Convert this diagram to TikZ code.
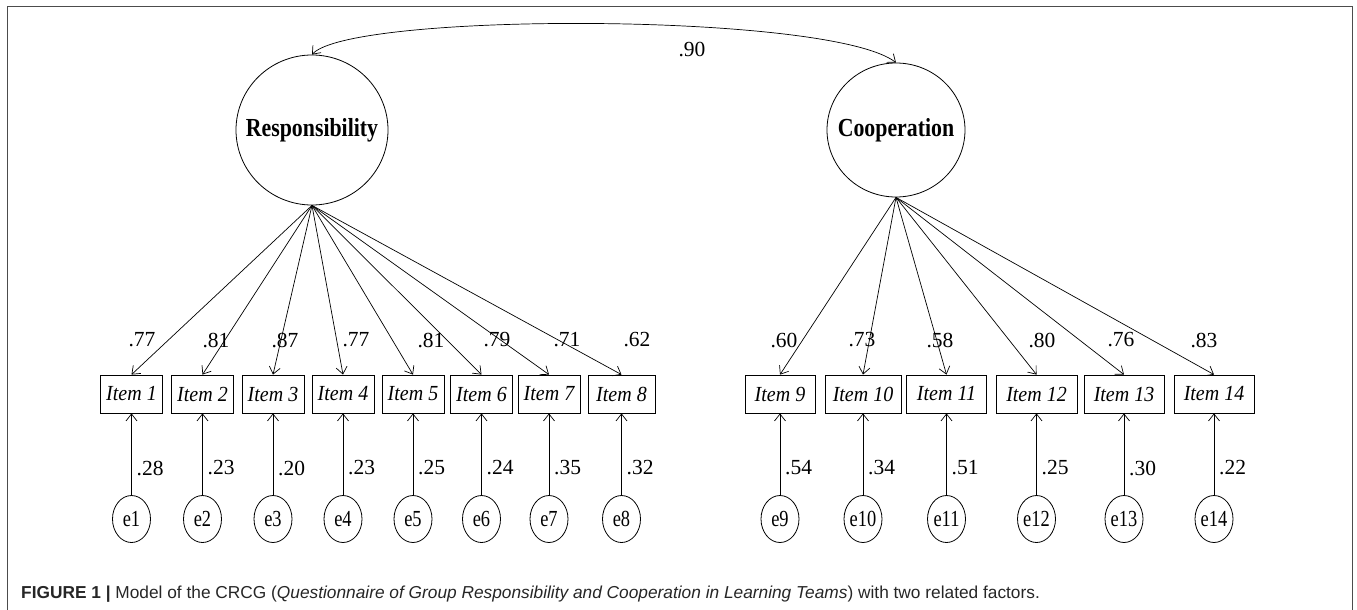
\documentclass[tikz,border=0pt]{standalone}
\usepackage{fontspec}
\setmainfont{Liberation Serif}
\newfontfamily\capfont{Liberation Sans}
\usetikzlibrary{arrows.meta,shapes.geometric}
\begin{document}
\begin{tikzpicture}[x=1pt,y=-1pt,
  latent/.style={ellipse, draw, line width=0.8pt, inner sep=0pt},
  factorlabel/.style={font=\fontsize{26}{26}\selectfont\bfseries, inner sep=0pt},
  itembox/.style={draw, line width=0.8pt, minimum height=38pt, minimum width=#1, inner sep=0pt,
     font=\fontsize{21.5}{21.5}\selectfont\itshape},
  errnode/.style={ellipse, draw, line width=0.8pt, minimum width=38pt, minimum height=47pt, inner sep=0pt,
     font=\fontsize{23}{23}\selectfont},
  arr/.style={-{Straight Barb[length=7pt,width=11pt]}, line width=0.7pt},
  lbl/.style={font=\fontsize{21.5}{21.5}\selectfont, inner sep=0pt}
]
\useasboundingbox (0,0) rectangle (1357,610);
\draw[line width=1pt, black!70] (7,610) -- (7,7) -- (1352,7) -- (1352,610);

% latent factors
\node[latent, minimum width=152pt, minimum height=150pt,
  label={[factorlabel]center:\scalebox{0.84}[1]{Responsibility}}] (R) at (312,130) {};
\node[latent, minimum width=138pt, minimum height=134pt,
  label={[factorlabel]center:\scalebox{0.84}[1]{Cooperation}}] (C) at (896,130) {};

% correlation
\draw[{Straight Barb[length=7pt,width=11pt]}-{Straight Barb[length=7pt,width=11pt]}, line width=0.7pt]
  (R.north) .. controls (350,12) and (830,12) .. (C.north);
\node[lbl] (r) at (692,50) {.90};

% items
\node[itembox=62pt] (i1) at (131.5,394) {\scalebox{0.93}[1]{Item 1}};
\node[itembox=62pt] (i2) at (202.5,394) {\scalebox{0.93}[1]{Item 2}};
\node[itembox=62pt] (i3) at (273,394) {\scalebox{0.93}[1]{Item 3}};
\node[itembox=62pt] (i4) at (343,394) {\scalebox{0.93}[1]{Item 4}};
\node[itembox=62pt] (i5) at (413,394) {\scalebox{0.93}[1]{Item 5}};
\node[itembox=62pt] (i6) at (481.5,394) {\scalebox{0.93}[1]{Item 6}};
\node[itembox=62pt] (i7) at (549,394) {\scalebox{0.93}[1]{Item 7}};
\node[itembox=67pt] (i8) at (621.5,394) {\scalebox{0.93}[1]{Item 8}};
\node[itembox=70pt] (i9) at (780,394) {\scalebox{0.93}[1]{Item 9}};
\node[itembox=76pt] (i10) at (863,394) {\scalebox{0.93}[1]{Item 10}};
\node[itembox=80pt] (i11) at (946.5,394) {\scalebox{0.93}[1]{Item 11}};
\node[itembox=81pt] (i12) at (1036.5,394) {\scalebox{0.93}[1]{Item 12}};
\node[itembox=80pt] (i13) at (1124,394) {\scalebox{0.93}[1]{Item 13}};
\node[itembox=80pt] (i14) at (1214,394) {\scalebox{0.93}[1]{Item 14}};

% loadings
\foreach \i in {1,...,8} \draw[arr] (R.south) -- (i\i.north);
\foreach \i in {9,...,14} \draw[arr] (C.south) -- (i\i.north);

\node[lbl] (l1) at (142,340) {.77};
\node[lbl] (l2) at (216,340) {.81};
\node[lbl] (l3) at (285,340) {.87};
\node[lbl] (l4) at (356,340) {.77};
\node[lbl] (l5) at (431,340) {.81};
\node[lbl] (l6) at (497,340) {.79};
\node[lbl] (l7) at (567,340) {.71};
\node[lbl] (l8) at (637,340) {.62};
\node[lbl] (l9) at (784,340) {.60};
\node[lbl] (l10) at (862,340) {.73};
\node[lbl] (l11) at (940,340) {.58};
\node[lbl] (l12) at (1042,340) {.80};
\node[lbl] (l13) at (1121,340) {.76};
\node[lbl] (l14) at (1204,340) {.83};

% errors
\foreach \n/\x/\v in {1/131.5/.28, 2/202.5/.23, 3/273/.20, 4/343/.23, 5/413/.25, 6/481.5/.24, 7/549/.35,
  8/621.5/.32, 9/780/.54, 10/863/.34, 11/946.5/.51, 12/1036.5/.25, 13/1124/.30, 14/1214/.22} {
  \node[errnode] (e\n) at (\x,519) {\scalebox{0.8}[1]{e\n}};
  \draw[arr] (e\n.north) -- (i\n.south);
  \node[lbl, anchor=west] (v\n) at (\x+5,468) {\v};
}

% caption
\node[anchor=base west, inner sep=0pt, text=black!85, font=\capfont\fontsize{17.3}{17.3}\selectfont] (cap) at (21,598)
  {\textbf{FIGURE 1} \textbf{|} Model of the CRCG (\textit{Questionnaire of Group Responsibility and Cooperation in Learning Teams}) with two related factors.};
\end{tikzpicture}
\end{document}
